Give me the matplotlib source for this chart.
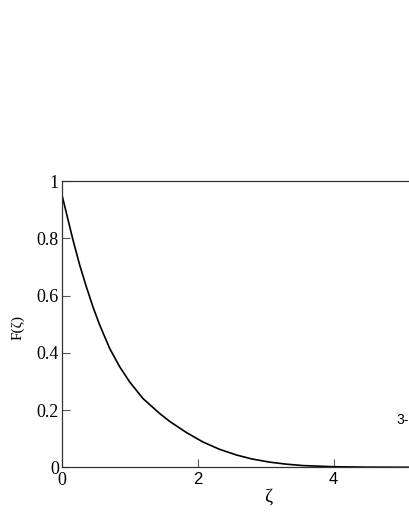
import numpy as np
import matplotlib.pyplot as plt

# values
zeta = [0.0, 0.07, 0.166, 0.265, 0.363, 0.46, 0.559, 0.706, 0.853, 1.0,
        1.196, 1.44, 1.59, 1.71, 1.83, 2.08, 2.32, 2.57, 2.8, 3.06, 3.3,
        3.55, 4.0, 4.5, 5.0, 5.5, 6.0]
F = [0.955, 0.887, 0.794, 0.706, 0.630, 0.560, 0.497, 0.415, 0.351, 0.298,
     0.240, 0.188, 0.160, 0.141, 0.122, 0.088, 0.063, 0.043, 0.029, 0.018,
     0.011, 0.006, 0.002, 0.0005, 0.0001, 0.0, 0.0]

xticks = [0, 2, 4]
yticks = [0, 0.2, 0.4, 0.6, 0.8, 1]
ytick_labels = ['0', '0.2', '0.4', '0.6', '0.8', '1']

W, H = 409, 529
fig = plt.figure(figsize=(W / 100, H / 100), dpi=100)
# axes runs off the right edge, as in the reference
x0, x1 = 61.7, 61.7 + 6 * 68
y0, y1 = 467.3, 181.0
ax = fig.add_axes([x0 / W, 1 - y0 / H, (x1 - x0) / W, (y0 - y1) / H])

ax.plot(zeta, F, color='black', lw=1.2)
ax.set_xlim(0, 6)
ax.set_ylim(0, 1)

for s in ax.spines.values():
    s.set_linewidth(0.9)
    s.set_color('#333333')

ax.set_xticks(xticks)
ax.set_xticklabels([str(t) for t in xticks])
ax.set_yticks(yticks)
ax.set_yticklabels(ytick_labels)
ax.tick_params(direction='in', length=5.8, width=0.8, color='#555555')
ax.tick_params(axis='y', labelsize=13, pad=2)
ax.tick_params(axis='x', labelsize=12, pad=3.5)
for lab in ax.get_yticklabels():
    lab.set_fontfamily('Liberation Serif')
for lab in ax.get_xticklabels():
    lab.set_fontfamily('Liberation Sans')
ax.get_xticklabels()[0].set_fontfamily('Liberation Serif')
ax.get_xticklabels()[0].set_fontsize(13)

fig.text(268 / W, 1 - 497 / H, 'ζ', fontsize=14, family='Liberation Serif',
         ha='center', va='center')
fig.text(18 / W, 1 - 327 / H, 'F(ζ)', fontsize=11, family='Liberation Serif',
         rotation=90, ha='center', va='center')
fig.text(396 / W, 1 - 420 / H, '3-', fontsize=10, family='Liberation Sans',
         ha='left', va='center')

fig.savefig('out.png', dpi=100)
